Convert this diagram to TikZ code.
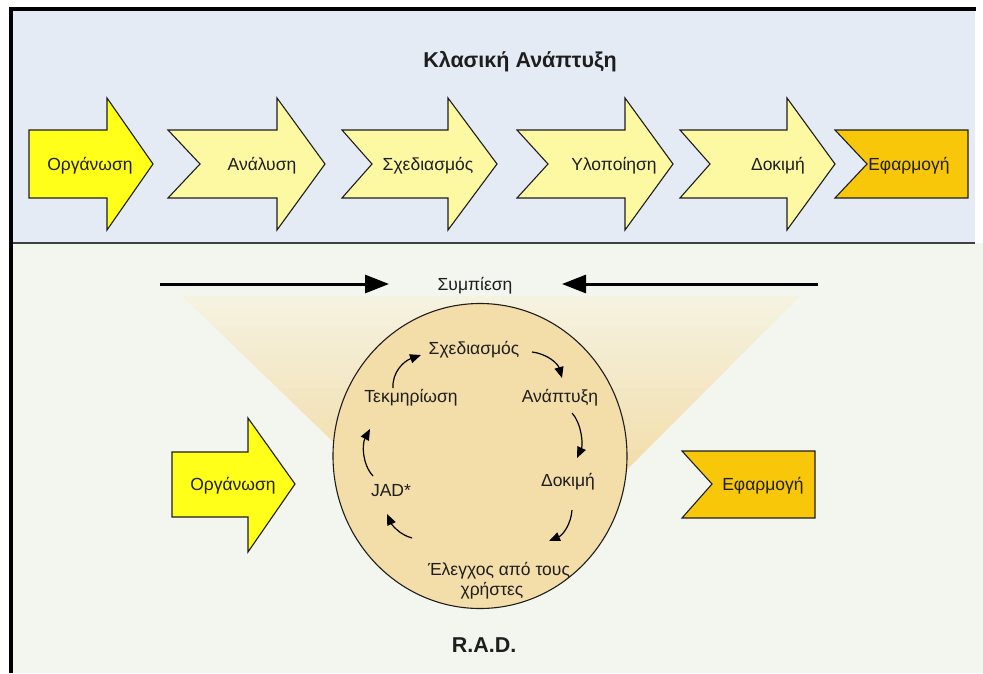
\documentclass[tikz,border=0pt]{standalone}
\usepackage{fontspec}
\setmainfont{Liberation Sans}
\usetikzlibrary{arrows.meta,shapes.geometric}

\definecolor{bandblue}{HTML}{E5EBF4}
\definecolor{lowgreen}{HTML}{F3F6EE}
\definecolor{brightyel}{HTML}{FFFF1A}
\definecolor{paleyel}{HTML}{FCF9A2}
\definecolor{gold}{HTML}{F8C70A}
\definecolor{cyclefill}{HTML}{F3DDA8}
\definecolor{funneltop}{HTML}{F5F2E0}
\definecolor{funnelbot}{HTML}{F2DEAC}
\definecolor{ink}{HTML}{1E1E1E}

\tikzset{
  phase/.style={draw=ink, line width=1.1pt, line join=miter},
  lbl/.style={font=\fontsize{17.5}{19}\selectfont, text=ink, inner sep=0pt, anchor=base},
  ttl/.style={font=\fontsize{21.5}{24}\selectfont\bfseries, text=ink, inner sep=0pt, anchor=base},
  press/.style={line width=3pt, -{Triangle[length=24pt,width=18pt]}},
  loop/.style={line width=1.2pt, -{Triangle[length=11pt,width=9pt]}},
}

\begin{document}
\begin{tikzpicture}[x=1pt,y=-1pt]
\useasboundingbox (0,0) rectangle (983,673);
\fill[white] (0,0) rectangle (983,673);

% panels
\fill[lowgreen] (11,243) rectangle (983,673);
\fill[bandblue] (11,9) rectangle (975,243);
\draw[line width=1.5pt, black!75] (11,243) -- (975,243);
\draw[line width=3.5pt] (11,673) -- (11,9) -- (976,9);

% ---------- classic development: phase arrows ----------
\def\bt{130} \def\bb{198} \def\ht{98} \def\hb{230} \def\my{164}
% first phase (plain arrow)
\draw[phase, fill=brightyel] (29,\bt) -- (107,\bt) -- (107,\ht) -- (153,\my)
  -- (107,\hb) -- (107,\bb) -- (29,\bb) -- cycle;
% chevron arrows: left, notch, head start, tip
\foreach \l/\n/\h/\t in {168/200/277/325, 342/372/448/497, 517/548/625/673, 680/710/787/835}{
  \draw[phase, fill=paleyel] (\l,\bt) -- (\h,\bt) -- (\h,\ht) -- (\t,\my)
    -- (\h,\hb) -- (\h,\bb) -- (\l,\bb) -- (\n,\my) -- cycle;
}
% last phase (notched box)
\draw[phase, fill=gold] (835,\bt) -- (968,\bt) -- (968,\bb) -- (835,\bb) -- (867,\my) -- cycle;

\node[ttl] (title) at (520,67) {Κλασική Ανάπτυξη};
\node[lbl] (c1) at (90,170)  {Οργάνωση};
\node[lbl] (c2) at (262,170) {Ανάλυση};
\node[lbl] (c3) at (428,170) {Σχεδιασμός};
\node[lbl] (c4) at (614,170) {Υλοποίηση};
\node[lbl] (c5) at (778,170) {Δοκιμή};
\node[lbl] (c6) at (909,170) {Εφαρμογή};

% ---------- RAD ----------
% compression funnel, fading towards the top
\begin{scope}
  \clip (182,296) -- (800,296) -- (497,600) -- cycle;
  \foreach \i in {0,...,29}{
    \pgfmathsetmacro{\ya}{296+\i*10.2}
    \pgfmathsetmacro{\yb}{\ya+10.6}
    \pgfmathtruncatemacro{\p}{min(100,\i*100/16)}
    \fill[funnelbot!\p!funneltop] (170,\ya) rectangle (810,\yb);
  }
\end{scope}

% compression arrows
\node[lbl] (press) at (475,290) {Συμπίεση};
\coordinate (pl) at (160,284);
\coordinate (pr) at (818,284);
\coordinate (pli) at (389,284);
\coordinate (pri) at (562,284);
\draw[press] (pl) -- (pli);
\draw[press] (pr) -- (pri);

% iteration cycle
\node[draw=ink, line width=1.1pt, fill=cyclefill, ellipse, minimum width=294pt,
      minimum height=305pt, inner sep=0pt] (cyc) at (480,456) {};

\node[lbl] (r1) at (474,354) {Σχεδιασμός};
\node[lbl] (r2) at (560,402) {Ανάπτυξη};
\node[lbl] (r3) at (568,486) {Δοκιμή};
\node[lbl] (r4) at (499,575) {Έλεγχος από τους};
\node[lbl] (r4b) at (492,595) {χρήστες};
\node[lbl] (r5) at (391,496) {JAD*};
\node[lbl] (r6) at (411,402) {Τεκμηρίωση};

\coordinate (a1s) at (532,352); \coordinate (a1e) at (562,378);
\coordinate (a2s) at (572,413); \coordinate (a2e) at (577,458);
\coordinate (a3s) at (572,510); \coordinate (a3e) at (549,541);
\coordinate (a4s) at (412,538); \coordinate (a4e) at (387,514);
\coordinate (a5s) at (373,476); \coordinate (a5e) at (370,429);
\coordinate (a6s) at (393,388); \coordinate (a6e) at (421,355);

\draw[loop] (a1s) .. controls (548,354) and (558,364) .. (a1e);
\draw[loop] (a2s) .. controls (582,424) and (583,445) .. (a2e);
\draw[loop] (a3s) .. controls (571,524) and (563,535) .. (a3e);
\draw[loop] (a4s) .. controls (400,535) and (392,525) .. (a4e);
\draw[loop] (a5s) .. controls (362,464) and (362,444) .. (a5e);
\draw[loop] (a6s) .. controls (392,372) and (404,361) .. (a6e);

% start and end phases
\draw[phase, fill=brightyel] (172,452) -- (248,452) -- (248,418) -- (295,484)
  -- (248,552) -- (248,517) -- (172,517) -- cycle;
\draw[phase, fill=gold] (682,451) -- (815,451) -- (815,518) -- (682,518) -- (712,484) -- cycle;
\node[lbl] (s1) at (233,490) {Οργάνωση};
\node[lbl] (s2) at (763,490) {Εφαρμογή};

\node[ttl] (rad) at (484,652) {R.A.D.};
\end{tikzpicture}
\end{document}
